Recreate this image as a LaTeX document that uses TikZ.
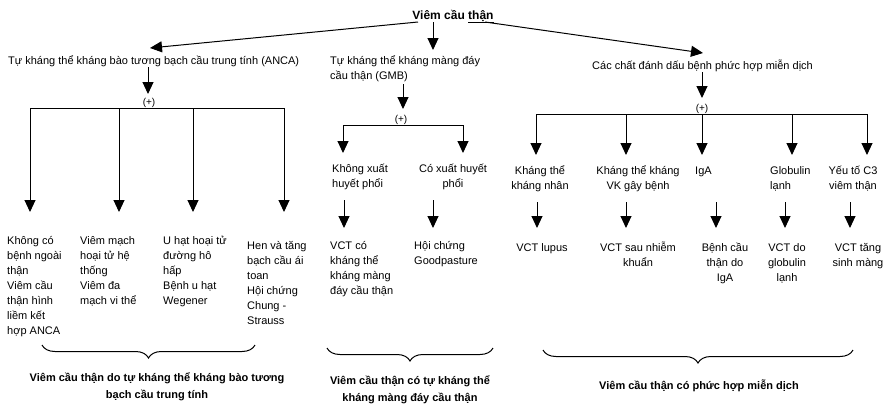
\documentclass[tikz,border=0pt]{standalone}
\usepackage{fontspec}
\setmainfont{Liberation Sans}
\usetikzlibrary{calc, positioning}
\usetikzlibrary{arrows.meta}
\usetikzlibrary{decorations.pathreplacing}

\begin{document}
\begin{tikzpicture}[x=1pt, y=-1pt,
  txt/.style={inner sep=0pt, font=\fontsize{11}{15}\selectfont},
  lft/.style={txt, anchor=base west, align=left},
  ctr/.style={txt, anchor=base, align=center},
  bld/.style={inner sep=0pt, anchor=base, align=center, font=\fontsize{11}{17.5}\selectfont\bfseries},
  plus/.style={inner sep=0pt, font=\fontsize{10}{10}\selectfont},
  arr/.style={line width=1pt, -{Triangle[length=12pt, width=11pt]}},
  brc/.style={line width=1pt, decorate, decoration={brace, mirror, amplitude=13pt}}]
\useasboundingbox (0,0) rectangle (892,408);

% multi-line nodes sit on the baseline of their last line
\node[bld, font=\fontsize{12}{12}\selectfont\bfseries] (V) at (453,19) {Viêm cầu \underline{thận}};
\node[lft] (A) at (8,64) {Tự kháng thể kháng bào tương bạch cầu trung tính (ANCA)};
\node[lft] (G) at (330,79) {Tự kháng thể kháng màng đáy\\cầu thận (GMB)};
\node[lft] (M) at (592,69) {Các chất đánh dấu bệnh phức hợp miễn dịch};

\coordinate (V1) at (418,22);
\coordinate (V2) at (433,22);
\coordinate (V3) at (485,22);
\coordinate (A0) at (150,48);
\coordinate (G0) at (433,50);
\coordinate (M0) at (703,53);
\draw[arr] (V1) -- (A0);
\draw[arr] (V2) -- (G0);
\draw[arr] (V3) -- (M0);

% ANCA
\draw[arr] (148,67) -- (148,94);
\node[plus] (PA) at (149,103) {(+)};
\draw[arr] (284,108) -- (30,108) -- (30,212);
\draw[arr] (119,108) -- (119,212);
\draw[arr] (193,108) -- (193,212);
\draw[arr] (284,108) -- (284,212);
\node[lft] (A1) at (7,334) {Không có\\bệnh ngoài\\thận\\Viêm cầu\\thận hình\\liềm kết\\hợp ANCA};
\node[lft] (A2) at (80,304) {Viêm mạch\\hoại tử hệ\\thống\\Viêm đa\\mạch vi thể};
\node[lft] (A3) at (163,304) {U hạt hoại tử\\đường hô\\hấp\\Bệnh u hạt\\Wegener};
\node[lft] (A4) at (247,324) {Hen và tăng\\bạch cầu ái\\toan\\Hội chứng\\Chung -\\Strauss};

% GMB
\draw[arr] (403,84) -- (403,109);
\node[plus] (PG) at (401,120) {(+)};
\draw[arr] (403,125) -- (343,125) -- (343,153);
\draw[arr] (403,125) -- (463,125) -- (463,153);
\node[lft] (G1) at (332,187) {Không xuất\\huyết phổi};
\node[ctr] (G2) at (453,187) {Có xuất huyết\\phổi};
\draw[arr] (344,200) -- (344,228);
\draw[arr] (433,200) -- (433,228);
\node[lft] (G3) at (330,294) {VCT có\\kháng thể\\kháng màng\\đáy cầu thận};
\node[lft] (G4) at (414,264) {Hội chứng\\Goodpasture};

% phuc hop mien dich
\draw[arr] (702,72) -- (702,98);
\node[plus] (PM) at (702,109) {(+)};
\draw[arr] (867,114) -- (536,114) -- (536,155);
\draw[arr] (626,114) -- (626,155);
\draw[arr] (702,114) -- (702,155);
\draw[arr] (792,114) -- (792,155);
\draw[arr] (867,114) -- (867,155);
\node[ctr] (M1) at (540,189) {Kháng thể\\kháng nhân};
\node[ctr] (M2) at (638,189) {Kháng thể kháng\\VK gây bệnh};
\node[lft] (M3) at (695,174) {IgA};
\node[lft] (M4) at (770,189) {Globulin\\lạnh};
\node[ctr] (M5) at (853,189) {Yếu tố C3\\viêm thận};
\draw[arr] (537,202) -- (537,228);
\draw[arr] (626,202) -- (626,228);
\draw[arr] (716,202) -- (716,228);
\draw[arr] (785,202) -- (785,228);
\draw[arr] (850,202) -- (850,228);
\node[ctr] (R1) at (542,251) {VCT lupus};
\node[ctr] (R2) at (638,266) {VCT sau nhiễm\\khuẩn};
\node[ctr] (R3) at (725,281) {Bệnh cầu\\thận do\\IgA};
\node[ctr] (R4) at (787,281) {VCT do\\globulin\\lạnh};
\node[ctr] (R5) at (858,266) {VCT tăng\\sinh màng};

\draw[brc] (42,345) -- (255,345);
\draw[brc] (327,348) -- (493,348);
\draw[brc] (543,350) -- (853,350);
\node[bld] (B1) at (157,398.5) {Viêm cầu thận do tự kháng thể kháng bào tương\\bạch cầu trung tính};
\node[bld] (B2) at (410,401.5) {Viêm cầu thận có tự kháng thể\\kháng màng đáy cầu thận};
\node[bld] (B3) at (699,389) {Viêm cầu thận có phức hợp miễn dịch};
\end{tikzpicture}
\end{document}
